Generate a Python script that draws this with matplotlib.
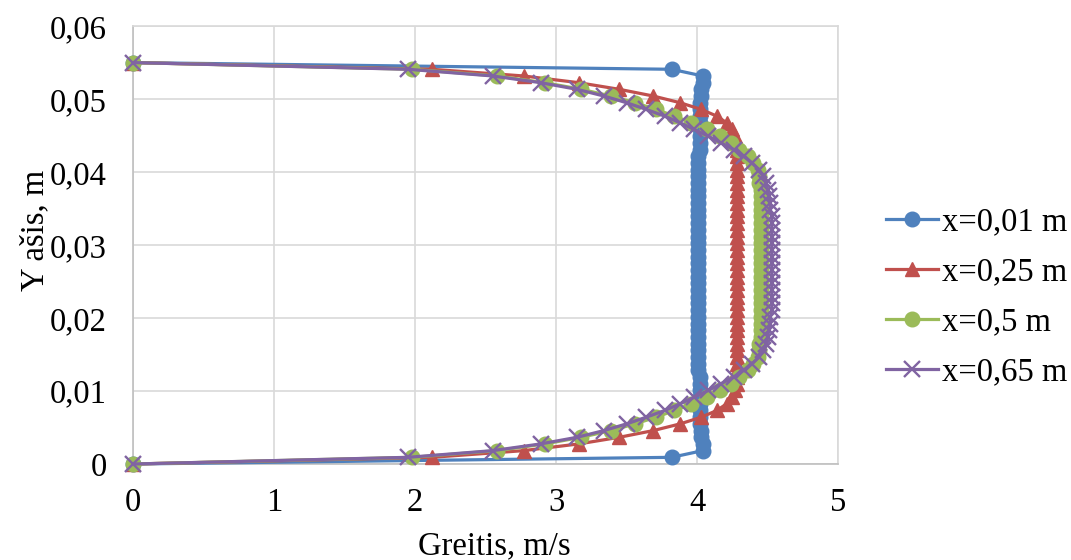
import matplotlib
matplotlib.use("Agg")
import matplotlib.pyplot as plt

plt.rcParams['font.family'] = ['Liberation Serif', 'DejaVu Serif']

# y positions of the profile points, m (wall to wall)
y_pos = [0.0, 0.000917, 0.001833, 0.00275, 0.003667, 0.004583, 0.0055, 0.006417, 0.007333, 0.00825,
         0.009167, 0.010083, 0.011, 0.011917, 0.012833, 0.01375, 0.014667, 0.015583, 0.0165, 0.017417,
         0.018333, 0.01925, 0.020167, 0.021083, 0.022, 0.022917, 0.023833, 0.02475, 0.025667, 0.026583,
         0.0275,
         0.028417, 0.029333, 0.03025, 0.031167, 0.032083, 0.033, 0.033917, 0.034833, 0.03575, 0.036667,
         0.037583, 0.0385, 0.039417, 0.040333, 0.04125, 0.042167, 0.043083, 0.044, 0.044917, 0.045833,
         0.04675, 0.047667, 0.048583, 0.0495, 0.050417, 0.051333, 0.05225, 0.053167, 0.054083, 0.055]

v_001 = [0, 3.82, 4.04, 4.04, 4.03, 4.03, 4.02, 4.02, 4.02, 4.02,
         4.02, 4.02, 4.02, 4.02, 4.01, 4.01, 4.01, 4.01, 4.01, 4.01,
         4.01, 4.01, 4.01, 4.01, 4.01, 4.01, 4.01, 4.01, 4.01, 4.01,
         4.01,
         4.01, 4.01, 4.01, 4.01, 4.01, 4.01, 4.01, 4.01, 4.01, 4.01,
         4.01, 4.01, 4.01, 4.01, 4.01, 4.01, 4.02, 4.02, 4.02, 4.02,
         4.02, 4.02, 4.02, 4.02, 4.03, 4.03, 4.04, 4.04, 3.82, 0]

v_025 = [0, 2.12, 2.77, 3.16, 3.45, 3.69, 3.88, 4.03, 4.14, 4.21,
         4.25, 4.27, 4.28, 4.28, 4.28, 4.28, 4.28, 4.28, 4.28, 4.28,
         4.28, 4.28, 4.28, 4.28, 4.28, 4.28, 4.28, 4.28, 4.28, 4.28,
         4.28,
         4.28, 4.28, 4.28, 4.28, 4.28, 4.28, 4.28, 4.28, 4.28, 4.28,
         4.28, 4.28, 4.28, 4.28, 4.28, 4.28, 4.28, 4.28, 4.27, 4.25,
         4.21, 4.14, 4.03, 3.88, 3.69, 3.45, 3.16, 2.77, 2.12, 0]

v_05 = [0, 1.98, 2.58, 2.92, 3.18, 3.39, 3.56, 3.71, 3.84, 3.96,
        4.07, 4.16, 4.24, 4.30, 4.36, 4.40, 4.43, 4.44, 4.44, 4.45,
        4.45, 4.45, 4.45, 4.45, 4.45, 4.45, 4.45, 4.45, 4.45, 4.45,
        4.45,
        4.45, 4.45, 4.45, 4.45, 4.45, 4.45, 4.45, 4.45, 4.45, 4.45,
        4.45, 4.44, 4.44, 4.43, 4.40, 4.36, 4.30, 4.24, 4.16, 4.07,
        3.96, 3.84, 3.71, 3.56, 3.39, 3.18, 2.92, 2.58, 1.98, 0]

v_065 = [0, 1.95, 2.55, 2.89, 3.15, 3.34, 3.50, 3.64, 3.77, 3.88,
         3.98, 4.08, 4.17, 4.26, 4.33, 4.39, 4.44, 4.47, 4.49, 4.50,
         4.51, 4.52, 4.52, 4.53, 4.53, 4.53, 4.53, 4.53, 4.53, 4.53,
         4.53,
         4.53, 4.53, 4.53, 4.53, 4.53, 4.53, 4.53, 4.52, 4.52, 4.51,
         4.50, 4.49, 4.47, 4.44, 4.39, 4.33, 4.26, 4.17, 4.08, 3.98,
         3.88, 3.77, 3.64, 3.50, 3.34, 3.15, 2.89, 2.55, 1.95, 0]

labels = ['x=0,01 m', 'x=0,25 m', 'x=0,5 m', 'x=0,65 m']
x_ticks = [0, 1, 2, 3, 4, 5]
y_ticks = [0, 0.01, 0.02, 0.03, 0.04, 0.05, 0.06]
y_tick_labels = ['0', '0,01', '0,02', '0,03', '0,04', '0,05', '0,06']


def main():
    fig = plt.figure(figsize=(10.71, 5.6), dpi=100)
    ax = fig.add_axes([0.1242, 0.1714, 0.6583, 0.782])

    ax.plot(v_001, y_pos, color='#4F81BD', lw=2.3, marker='o', ms=10.5,
            label=labels[0], clip_on=False, zorder=3)
    ax.plot(v_025, y_pos, color='#C0504D', lw=2.3, marker='^', ms=10.5,
            label=labels[1], clip_on=False, zorder=4)
    ax.plot(v_05, y_pos, color='#9BBB59', lw=2.3, marker='o', ms=10.5,
            label=labels[2], clip_on=False, zorder=5)
    ax.plot(v_065, y_pos, color='#8064A2', lw=2.3, marker='x', ms=11,
            mew=1.7, label=labels[3], clip_on=False, zorder=6)

    ax.set_xlim(0, 5)
    ax.set_ylim(0, 0.06)
    ax.set_xticks(x_ticks)
    ax.set_yticks(y_ticks)
    ax.set_yticklabels(y_tick_labels)
    ax.grid(True, color='#d9d9d9', lw=1.2, zorder=0)
    ax.set_axisbelow(True)
    for s in ax.spines.values():
        s.set_color('#d9d9d9')
        s.set_linewidth(1.2)
    ax.spines['left'].set_color('#bfbfbf')
    ax.spines['bottom'].set_color('#bfbfbf')
    ax.tick_params(axis='both', length=0, labelsize=23.5)
    ax.tick_params(axis='y', pad=19)
    ax.tick_params(axis='x', pad=17)

    ax.set_xlabel('Greitis, m/s', fontsize=23.5)
    ax.set_ylabel('Y ašis, m', fontsize=23.5)
    ax.xaxis.set_label_coords(0.512, -0.152)
    ax.yaxis.set_label_coords(-0.118, 0.534)

    fig.legend(loc='center left', bbox_to_anchor=(0.8, 0.47), frameon=False,
               fontsize=23.5, handlelength=1.6, handletextpad=0.1,
               labelspacing=0.6)

    fig.savefig('out.png', dpi=100)


if __name__ == "__main__":
    main()
